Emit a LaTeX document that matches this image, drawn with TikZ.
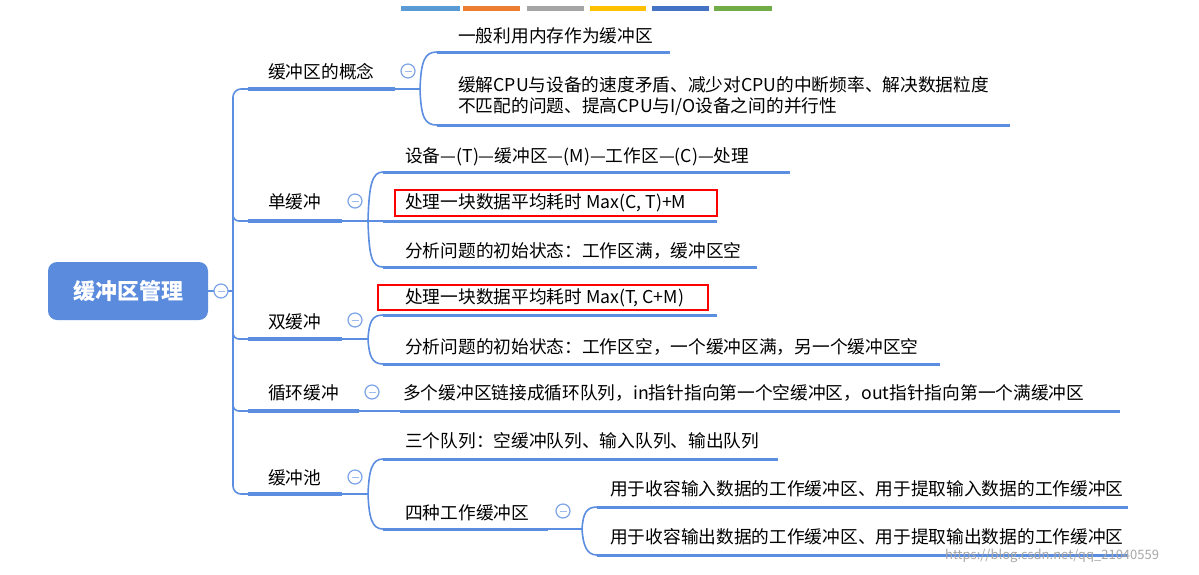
\documentclass[tikz,border=0pt]{standalone}
\usepackage{fontspec}
\setmainfont{Noto Sans CJK SC}
\begin{document}
\begin{tikzpicture}[x=1pt,y=-1pt,
  lc/.style={draw=lineblue,line width=1.6pt},
  ul/.style={draw=lineblue,line width=3.5pt},
  cul/.style={draw=lineblue,line width=3pt},
  txt/.style={anchor=west,inner sep=0pt,font=\fontsize{17.7}{21.5}\selectfont},
  tog/.style={circle,draw=lineblue!80,line width=1.2pt,fill=white,minimum size=14pt,inner sep=0pt,
    path picture={\draw[lineblue!60,line width=1pt] ([xshift=-3.5pt]path picture bounding box.center)--([xshift=3.5pt]path picture bounding box.center);}},
  redbox/.style={draw=red,line width=1.8pt},
  bar/.style={line width=5pt}]
\definecolor{lineblue}{HTML}{5B8DE0}
\definecolor{rootblue}{HTML}{5A8BDD}
\useasboundingbox (0,0) rectangle (1199,574);
% top bars
\foreach \a/\b/\c in {401/460/5B9BD5,463/520/ED7D31,527/584/A5A5A5,590/646/FFC000,652/709/4472C4,714/772/70AD47}
  {\definecolor{bc}{HTML}{\c}\draw[bar,bc] (\a,8)--(\b,8);}
% root
\node[fill=rootblue,rounded corners=9pt,minimum width=160pt,minimum height=58pt,text=white,
  font=\fontsize{22}{26}\selectfont\bfseries] (root) at (128,291) {缓冲区管理};
% trunk
\coordinate (tk) at (233,291);
\draw[lc] (root.east)--(tk);
\draw[lc,rounded corners=8pt] (248,89)--(233,89)--(233,494)--(248,494);
\foreach \y in {221,339,411}{\draw[lc,rounded corners=6pt] (233,\y-12)--(233,\y)--(248,\y);}
\node[tog] (t0) at (221,291) {};
% branch 1
\node[txt] (b1) at (268,72) {缓冲区的概念};
\draw[ul] (248,89)--(395,89);
\draw[lc] (395,89)--(420,89);
\draw[lc] (420,89) .. controls (421,60) and (425,52) .. (437,52);
\draw[lc] (420,89) .. controls (421,118) and (425,125) .. (437,125);
\node[tog] (t1) at (408,71) {};
\node[txt] (c11) at (458,36) {一般利用内存作为缓冲区};
\draw[cul] (437,52)--(670,52);
\node[txt,align=left] (c12) at (458,96) {缓解CPU与设备的速度矛盾、减少对CPU的中断频率、解决数据粒度\\不匹配的问题、提高CPU与I/O设备之间的并行性};
\draw[cul] (437,125)--(1010,125);
% branch 2
\node[txt] (b2) at (268,202) {单缓冲};
\draw[ul] (248,221)--(342,221);
\draw[lc] (342,221)--(368,221);
\draw[lc] (368,221) .. controls (369,185) and (372,172) .. (383,172);
\draw[lc] (368,221)--(383,221);
\draw[lc] (368,221) .. controls (369,257) and (372,267) .. (383,267);
\node[tog] (t2) at (355,201) {};
\node[txt] (c21) at (405,157) {设备—(T)—缓冲区—(M)—工作区—(C)—处理};
\draw[cul] (383,172)--(790,172);
\node[txt] (c22) at (405,203) {处理一块数据平均耗时 Max(C, T)+M};
\draw[redbox] (395,190) rectangle (717,216);
\draw[cul] (383,221)--(717,221);
\node[txt] (c23) at (405,251) {分析问题的初始状态：工作区满，缓冲区空};
\draw[cul] (383,267)--(757,267);
% branch 3
\node[txt] (b3) at (268,322) {双缓冲};
\draw[ul] (248,339)--(342,339);
\draw[lc] (342,339)--(368,339);
\draw[lc] (368,339) .. controls (369,322) and (372,315) .. (383,315);
\draw[lc] (368,339) .. controls (369,356) and (372,364) .. (383,364);
\node[tog] (t3) at (355,320) {};
\node[txt] (c31) at (405,298) {处理一块数据平均耗时 Max(T, C+M)};
\draw[redbox] (378,285) rectangle (708,310);
\draw[cul] (383,315)--(717,315);
\node[txt] (c32) at (405,347) {分析问题的初始状态：工作区空，一个缓冲区满，另一个缓冲区空};
\draw[cul] (383,364)--(940,364);
% branch 4
\node[txt] (b4) at (268,393) {循环缓冲};
\draw[ul] (248,411)--(359,411);
\draw[lc] (359,411)--(400,411);
\node[tog] (t4) at (372,392) {};
\node[txt] (c41) at (403,393) {多个缓冲区链接成循环队列，in指针指向第一个空缓冲区，out指针指向第一个满缓冲区};
\draw[cul] (400,411)--(1120,411);
% branch 5
\node[txt] (b5) at (268,478) {缓冲池};
\draw[ul] (248,494)--(342,494);
\draw[lc] (342,494)--(368,494);
\draw[lc] (368,494) .. controls (369,470) and (372,459) .. (383,459);
\draw[lc] (368,494) .. controls (369,518) and (372,529) .. (383,529);
\node[tog] (t5) at (355,477) {};
\node[txt] (c51) at (405,441) {三个队列：空缓冲队列、输入队列、输出队列};
\draw[cul] (383,459)--(778,459);
\node[txt] (c52) at (405,513) {四种工作缓冲区};
\draw[cul] (383,529)--(548,529);
\draw[lc] (548,529)--(582,529);
\draw[lc] (582,529) .. controls (583,514) and (586,507) .. (597,507);
\draw[lc] (582,529) .. controls (583,544) and (586,555) .. (597,555);
\node[tog] (t6) at (563,511) {};
\node[txt] (c61) at (610,489) {用于收容输入数据的工作缓冲区、用于提取输入数据的工作缓冲区};
\draw[cul] (597,507)--(1128,507);
\node[txt] (c62) at (610,537) {用于收容输出数据的工作缓冲区、用于提取输出数据的工作缓冲区};
\draw[cul] (597,555)--(1128,555);
% watermark
\node[anchor=west,inner sep=0pt,text=black!35,font=\fontsize{13}{15}\selectfont] (wm) at (945,556) {https://blog.csdn.net/qq\_21040559};
\end{tikzpicture}
\end{document}
